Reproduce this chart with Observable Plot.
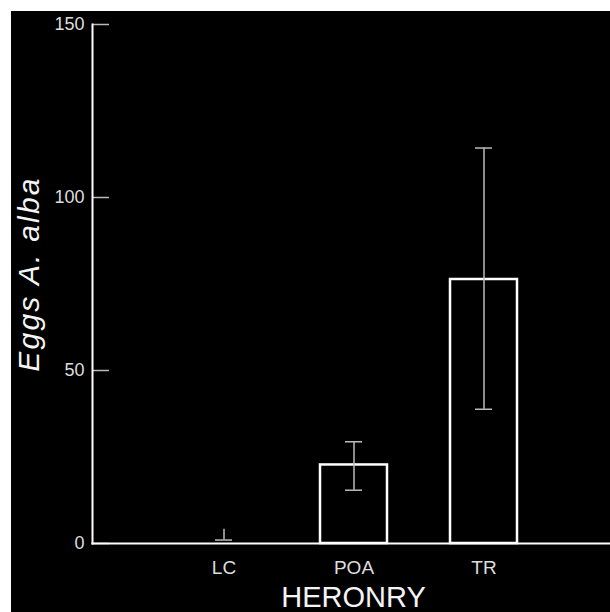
<!DOCTYPE html>
<html><head><meta charset="utf-8">
<script src="https://cdn.jsdelivr.net/npm/d3@7"></script>
<script src="https://cdn.jsdelivr.net/npm/@observablehq/plot@0.6"></script>
<style>
html,body{margin:0;padding:0;background:#fff;}
#chart{position:absolute;left:11px;top:11px;}
#chart text[transform*="rotate"]{letter-spacing:2.2px;}
</style></head><body><div id="chart"></div>
<script>
const heronry = ["LC", "POA", "TR"];
const meanEggs = [0, 22.7, 76.3];
const lowEggs = [1.0, 15.4, 38.8];
const highEggs = [4.1, 29.4, 114.3];
const yTicks = [0, 50, 100, 150];
const xTitle = "HERONRY";
const yTitle = "Eggs A. alba";

const data = heronry.map((h, i) => ({heronry: h, mean: meanEggs[i], lo: lowEggs[i], hi: highEggs[i]}));
const font = "'Liberation Sans', Arial, sans-serif";

const chart = Plot.plot({
  width: 599, height: 601,
  marginLeft: 81, marginRight: 0, marginTop: 13, marginBottom: 69,
  style: {background: "#000", color: "#ddd", fontFamily: font, fontSize: "18px"},
  x: {domain: heronry, paddingInner: 0.485, paddingOuter: 0.73, align: 0.515},
  y: {domain: [0, 150]},
  marks: [
    Plot.barY(data, {x: "heronry", y: "mean", fill: "#000", stroke: "#fff", strokeWidth: 2.5}),
    Plot.ruleX(data, {x: "heronry", y1: "lo", y2: "hi", stroke: "#bbb", strokeWidth: 1.5}),
    Plot.tickY(data, {x: "heronry", y: "lo", inset: 25, stroke: "#bbb", strokeWidth: 1.5}),
    Plot.tickY(data.filter(d => d.mean > 0), {x: "heronry", y: "hi", inset: 25, stroke: "#bbb", strokeWidth: 1.5}),
    Plot.axisY({ticks: yTicks, tickSize: 17, dx: 17, tickFormat: () => "", stroke: "#bbb", strokeWidth: 1.5, label: null}),
    Plot.axisY({ticks: yTicks, tickSize: 0, tickPadding: 8, fill: "#ddd", fontSize: 18, label: null}),
    Plot.axisX({tickSize: 0, tickPadding: 17, fill: "#ddd", fontSize: 19, label: null}),
    Plot.frame({anchor: "left", stroke: "#fff", strokeWidth: 2}),
    Plot.frame({anchor: "bottom", stroke: "#fff", strokeWidth: 2}),
    Plot.text([xTitle], {frameAnchor: "bottom", dx: 2, dy: 63.4, lineAnchor: "bottom", fontSize: 29, fill: "#f4f4f4"}),
    Plot.text([yTitle], {frameAnchor: "left", rotate: -90, textAnchor: "middle", dx: -54, dy: -10, lineAnchor: "bottom", fontSize: 30, fontStyle: "italic", fill: "#f4f4f4"})
  ]
});
document.getElementById("chart").appendChild(chart);
</script>
</body></html>
